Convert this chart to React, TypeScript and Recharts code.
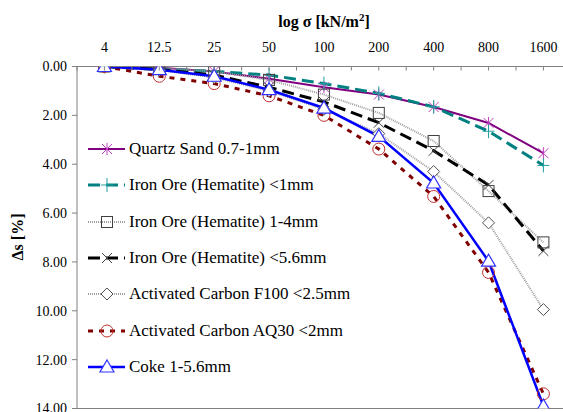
import React from "react";
import { Legend, Line, LineChart, ReferenceLine, XAxis, YAxis } from "recharts";

const categories = ["4", "12.5", "25", "50", "100", "200", "400", "800", "1600"];
const quartzSand = [0, 0.05, 0.2, 0.5, 0.85, 1.15, 1.66, 2.31, 3.55];
const ironOreFine = [0, 0.1, 0.2, 0.35, 0.7, 1.1, 1.65, 2.65, 4.05];
const ironOre14 = [0, 0.07, 0.2, 0.55, 1.15, 1.9, 3.05, 5.1, 7.2];
const ironOre56 = [0, 0.12, 0.35, 0.85, 1.45, 2.3, 3.45, 4.85, 7.55];
const carbonF100 = [0, 0.15, 0.45, 1.0, 1.75, 2.75, 4.3, 6.4, 9.95];
const carbonAQ30 = [0, 0.4, 0.7, 1.2, 2.0, 3.38, 5.32, 8.43, 13.4];
const coke = [0, 0.13, 0.4, 0.95, 1.7, 2.86, 4.77, 7.97, 13.9];
const yTicks = [0, 2, 4, 6, 8, 10, 12, 14];

const FONT = "Liberation Serif, DejaVu Serif, Times New Roman, serif";

type Marker = "asterisk" | "plus" | "square" | "cross" | "diamond" | "circle" | "triangle";

const drawMarker = (kind: Marker, cx: number, cy: number, color: string, key?: string) => {
  switch (kind) {
    case "asterisk":
      return (
        <g key={key} stroke={color} strokeWidth={1}>
          <line x1={cx - 5} y1={cy - 5} x2={cx + 5} y2={cy + 5} />
          <line x1={cx - 5} y1={cy + 5} x2={cx + 5} y2={cy - 5} />
          <line x1={cx} y1={cy - 6} x2={cx} y2={cy + 6} />
        </g>
      );
    case "plus":
      return (
        <g key={key} stroke={color} strokeWidth={1}>
          <line x1={cx - 6} y1={cy} x2={cx + 6} y2={cy} />
          <line x1={cx} y1={cy - 7} x2={cx} y2={cy + 7} />
        </g>
      );
    case "square":
      return <rect key={key} x={cx - 5.5} y={cy - 5.5} width={11} height={11} fill="none" stroke={color} strokeWidth={1} />;
    case "cross":
      return (
        <g key={key} stroke={color} strokeWidth={1}>
          <line x1={cx - 5} y1={cy - 5} x2={cx + 5} y2={cy + 5} />
          <line x1={cx - 5} y1={cy + 5} x2={cx + 5} y2={cy - 5} />
        </g>
      );
    case "diamond":
      return (
        <path key={key} d={`M${cx},${cy - 6}L${cx + 6},${cy}L${cx},${cy + 6}L${cx - 6},${cy}Z`} fill="#fff" stroke={color} strokeWidth={1} />
      );
    case "circle":
      return <circle key={key} cx={cx} cy={cy} r={6} fill="none" stroke={color} strokeWidth={1} />;
    case "triangle":
      return (
        <path key={key} d={`M${cx},${cy - 7}L${cx + 7},${cy + 5}L${cx - 7},${cy + 5}Z`} fill="#fff" stroke={color} strokeWidth={1.2} />
      );
  }
};

type SeriesCfg = {
  key: string;
  name: string;
  values: number[];
  stroke: string;
  width: number;
  dash?: string;
  marker: Marker;
  markerColor: string;
};

const series: SeriesCfg[] = [
  { key: "quartz", name: "Quartz Sand 0.7-1mm", values: quartzSand, stroke: "#800080", width: 2, marker: "asterisk", markerColor: "#c040c0" },
  { key: "iron1", name: "Iron Ore (Hematite) <1mm", values: ironOreFine, stroke: "#008080", width: 3, dash: "12 6", marker: "plus", markerColor: "#20a0a0" },
  { key: "iron14", name: "Iron Ore (Hematite) 1-4mm", values: ironOre14, stroke: "#a0a0a0", width: 2, dash: "1 1", marker: "square", markerColor: "#404040" },
  { key: "iron56", name: "Iron Ore (Hematite) <5.6mm", values: ironOre56, stroke: "#000000", width: 3, dash: "12 6", marker: "cross", markerColor: "#404040" },
  { key: "f100", name: "Activated Carbon F100 <2.5mm", values: carbonF100, stroke: "#a0a0a0", width: 2, dash: "1 1", marker: "diamond", markerColor: "#505050" },
  { key: "aq30", name: "Activated Carbon AQ30 <2mm", values: carbonAQ30, stroke: "#800000", width: 3, dash: "5 6", marker: "circle", markerColor: "#c03030" },
  { key: "coke", name: "Coke 1-5.6mm", values: coke, stroke: "#0000ff", width: 2.5, marker: "triangle", markerColor: "#3030ff" },
];

const chartData = categories.map((c, i) => {
  const row: Record<string, any> = { i, label: c };
  series.forEach((s) => (row[s.key] = s.values[i]));
  return row;
});

const xTicks: number[] = [];
for (let t = -0.5; t <= 8.01; t += 0.5) xTicks.push(t);

const XTick = (props: any) => {
  const { x, y, payload } = props;
  const v = payload.value as number;
  const isMajor = Number.isInteger(v);
  return (
    <g>
      <line x1={x} y1={y} x2={x} y2={y + 4} stroke="#808080" />
      {isMajor && (
        <text x={x} y={y - 15} textAnchor="middle" fontFamily={FONT} fontSize={14} fill="#000">
          {categories[v]}
        </text>
      )}
    </g>
  );
};

const LegendBox = () => (
  <div style={{ fontFamily: FONT, fontSize: 17, color: "#000" }}>
    {series.map((s) => (
      <div key={s.key} style={{ height: 36.33, display: "flex", alignItems: "center" }}>
        <svg width={42} height={20} style={{ display: "block" }}>
          <line x1={2} y1={10} x2={39} y2={10} stroke={s.stroke} strokeWidth={s.width} strokeDasharray={s.dash} />
          {drawMarker(s.marker, 21, 10, s.markerColor)}
        </svg>
        <span style={{ marginLeft: 1, whiteSpace: "nowrap" }}>{s.name}</span>
      </div>
    ))}
  </div>
);

export default function App() {
  return (
    <div style={{ position: "absolute", left: 0, top: 0, background: "#fff", fontFamily: FONT }}>
      <LineChart width={563} height={412} data={chartData} margin={{ top: 6.5, right: 0, bottom: 3.5, left: 0 }}>
        <XAxis
          type="number"
          dataKey="i"
          orientation="top"
          domain={[-0.5, 8.357]}
          ticks={xTicks}
          interval={0}
          height={60}
          tickSize={0}
          tickMargin={0}
          tickLine={false}
          tick={<XTick />}
          stroke="#808080"
          allowDataOverflow
        />
        <YAxis
          reversed
          domain={[0, 14]}
          ticks={yTicks}
          interval={0}
          width={77}
          tickSize={5}
          tickMargin={5}
          tickFormatter={(v: number) => v.toFixed(2)}
          stroke="#808080"
          tick={{ fill: "#000", fontSize: 14, fontFamily: FONT }}
          allowDataOverflow
        />
        <ReferenceLine y={14} stroke="#808080" />
        <Legend
          layout="horizontal"
          verticalAlign="middle"
          align="center"
          content={<LegendBox />}
          wrapperStyle={{ position: "absolute", left: 86, top: 131, width: 320, height: 260 }}
        />
        {series.map((s) => (
          <Line
            key={s.key}
            type="linear"
            dataKey={s.key}
            name={s.name}
            stroke={s.stroke}
            strokeWidth={s.width}
            strokeDasharray={s.dash}
            dot={(p: any) => drawMarker(s.marker, p.cx, p.cy, s.markerColor, `${s.key}-${p.index}`) as any}
            activeDot={false}
            isAnimationActive={false}
          />
        ))}
        <text x={324} y={27} textAnchor="middle" fontFamily={FONT} fontSize={16} fontWeight="bold">
          log σ [kN/m<tspan dy={-6} fontSize={11}>2</tspan>
          <tspan dy={6}>]</tspan>
        </text>
        <text
          x={23}
          y={237}
          textAnchor="middle"
          fontFamily={FONT}
          fontSize={16}
          fontWeight="bold"
          transform="rotate(-90 23 237)"
        >
          Δs [%]
        </text>
      </LineChart>
    </div>
  );
}
